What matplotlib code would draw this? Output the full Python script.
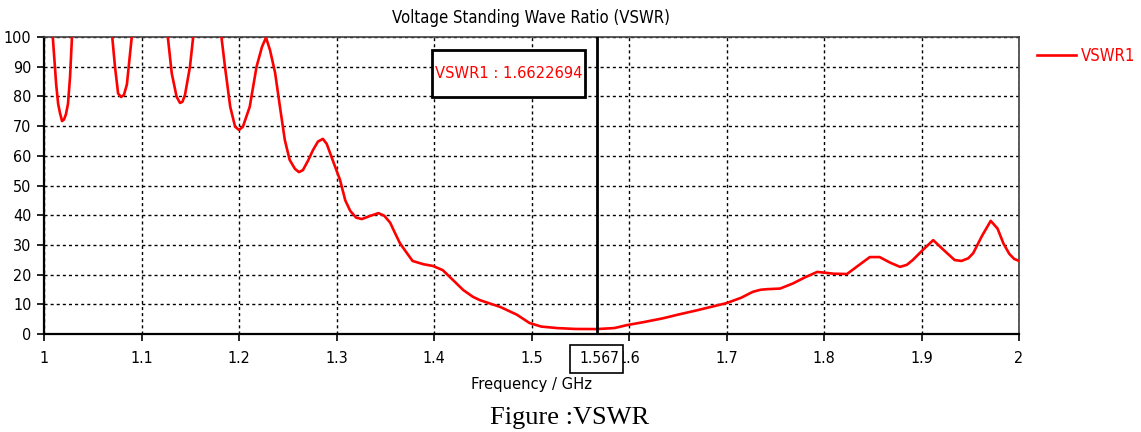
import matplotlib
matplotlib.use("Agg")
import matplotlib.pyplot as plt
import matplotlib.font_manager as fm
from matplotlib.patches import Rectangle

# ---- pick a narrow sans font if one is installed (reference uses a Tahoma-like narrow face)
stretch_rank = {'semi-condensed': 0, 'condensed': 1, 'extra-condensed': 2, 'ultra-condensed': 3}
cands = []
for f in fm.fontManager.ttflist:
    st = str(f.stretch)
    nm = f.name
    if f.style != 'normal' or f.weight not in (400, 'normal', 'regular', 'book'):
        continue
    if st in stretch_rank:
        cands.append((stretch_rank[st], nm, st))
    elif 'Narrow' in nm or 'Condensed' in nm:
        cands.append((1, nm, 'normal'))
pref = ['DejaVu Sans', 'Liberation Sans Narrow', 'Noto Sans', 'Open Sans', 'Roboto']
cands.sort(key=lambda c: (c[0], pref.index(c[1]) if c[1] in pref else 99))
if cands:
    FAMILY, STRETCH = cands[0][1], cands[0][2]
else:
    FAMILY, STRETCH = 'Liberation Sans', 'normal'
plt.rcParams['font.family'] = [FAMILY, 'DejaVu Sans']
plt.rcParams['font.stretch'] = STRETCH

freq = [1.000, 1.009, 1.0125, 1.0145, 1.0164, 1.0185, 1.0205, 1.0225, 1.0246, 1.0267, 1.0287, 1.034,
        1.065, 1.070, 1.0728, 1.076, 1.079, 1.082, 1.085, 1.090, 1.095,
        1.122, 1.127, 1.131, 1.136, 1.1395, 1.142, 1.1446, 1.1497, 1.153, 1.158,
        1.177, 1.182, 1.1856, 1.191, 1.196, 1.200, 1.204, 1.211, 1.218, 1.2236, 1.2277,
        1.2318, 1.237, 1.242, 1.247, 1.252, 1.2574, 1.2615, 1.2656, 1.271, 1.276, 1.281, 1.286,
        1.290, 1.296, 1.3036, 1.309, 1.314, 1.320, 1.326, 1.334, 1.343, 1.349, 1.355, 1.360,
        1.365, 1.371, 1.378, 1.389, 1.399, 1.409, 1.420, 1.430, 1.440, 1.447, 1.458, 1.468, 1.485,
        1.498, 1.510, 1.526, 1.545, 1.567, 1.585, 1.598, 1.615, 1.635, 1.650, 1.670,
        1.700, 1.715, 1.727, 1.735, 1.742, 1.755, 1.768, 1.780, 1.793, 1.799, 1.810, 1.8236,
        1.835, 1.847, 1.857, 1.868, 1.878, 1.885, 1.891, 1.902, 1.912, 1.922, 1.934, 1.941,
        1.948, 1.953, 1.962, 1.971, 1.978, 1.984, 1.990, 1.995, 2.000]
vswr = [140, 100, 84, 77.5, 74.4, 71.7, 72.2, 74, 77.5, 86.5, 100, 125,
        125, 100, 90, 81, 79.8, 80.5, 84, 100, 120,
        120, 100, 87.8, 79.9, 77.8, 78.2, 80.5, 90, 100, 120,
        120, 100, 90, 76.5, 69.8, 68.7, 69.8, 76.5, 90, 96.7, 99.8,
        95.6, 88, 76.5, 65.3, 58.6, 55.6, 54.5, 55.2, 58.5, 62, 64.8, 65.7,
        64, 58.6, 51.9, 45, 41.5, 39.2, 38.7, 39.7, 40.7, 39.8, 37.5, 34,
        30.6, 27.8, 24.6, 23.5, 22.9, 21.5, 18, 14.8, 12.5, 11.4, 10.2, 9.1, 6.5,
        3.7, 2.5, 2.0, 1.7, 1.66, 2.0, 3.0, 4.0, 5.3, 6.5, 8.0,
        10.4, 12.2, 14.2, 14.9, 15.1, 15.3, 17, 19, 20.9, 20.7, 20.3, 20.2,
        23, 25.9, 25.9, 24, 22.6, 23.3, 24.9, 28.5, 31.6, 28.5, 24.9, 24.6,
        25.5, 27.2, 33, 38.1, 35.5, 30.5, 27.0, 25.3, 24.6]

x_ticks = [1, 1.1, 1.2, 1.3, 1.4, 1.5, 1.6, 1.7, 1.8, 1.9, 2]
x_tick_labels = ['1', '1.1', '1.2', '1.3', '1.4', '1.5', '1.6', '1.7', '1.8', '1.9', '2']
y_ticks = [0, 10, 20, 30, 40, 50, 60, 70, 80, 90, 100]
marker_freq = 1.567
marker_value_text = 'VSWR1 : 1.6622694'
series_name = 'VSWR1'

W, H = 1141, 432
fig = plt.figure(figsize=(W / 100, H / 100), dpi=100)
ax = fig.add_axes([44 / W, 1 - 334 / H, 975 / W, 297 / H])

ax.plot(freq, vswr, color='#ff0000', lw=1.9, zorder=3, solid_joinstyle='round')
ax.set_xlim(1, 2)
ax.set_ylim(0, 100)
ax.set_xticks(x_ticks)
ax.set_xticklabels(x_tick_labels)
ax.set_yticks(y_ticks)
ax.grid(True, color='black', linestyle=(0, (2.2, 2.2)), linewidth=1.0)
ax.tick_params(axis='both', direction='out', length=5, width=1.2, labelsize=11.5, colors='black')
ax.tick_params(axis='x', pad=7)
ax.tick_params(axis='y', pad=4)
for s in ['left', 'bottom']:
    ax.spines[s].set_linewidth(1.6)
    ax.spines[s].set_color('black')
for s in ['top', 'right']:
    ax.spines[s].set_linewidth(1.2)
    ax.spines[s].set_color('#404040')

ax.set_title('Voltage Standing Wave Ratio (VSWR)', fontsize=12, pad=10)
ax.set_xlabel('Frequency / GHz', fontsize=11.8, labelpad=8)

# marker line
ax.axvline(marker_freq, color='black', lw=2, zorder=4)

# marker value box
ax.add_patch(Rectangle((0.398, 0.798), 0.157, 0.158, transform=ax.transAxes,
                       fill=True, facecolor='white', edgecolor='black', lw=2, zorder=5))
ax.text(0.4765, 0.877, marker_value_text, transform=ax.transAxes, color='#ff0000',
        fontsize=11.8, ha='center', va='center', zorder=6)

# marker x box
ax.add_patch(Rectangle((0.5395, -0.1313), 0.0544, 0.0943, transform=ax.transAxes,
                       fill=True, facecolor='white', edgecolor='black', lw=1.2,
                       clip_on=False, zorder=5))
ax.text(marker_freq + 0.0025, -0.084, f'{marker_freq:.3f}', transform=ax.get_xaxis_transform(),
        fontsize=11.2, ha='center', va='center', clip_on=False, zorder=6)

# legend
leg = ax.legend([series_name], loc='center left', bbox_to_anchor=(1037 / W, 1 - 56 / H),
                bbox_transform=fig.transFigure, frameon=False, fontsize=12,
                borderpad=0, borderaxespad=0, handlelength=2.35, handletextpad=0.3,
                labelcolor='#ff0000')

fig.text(570 / W, 1 - 418 / H, 'Figure :VSWR', family='Liberation Serif', stretch='normal',
         fontsize=19, ha='center', va='center')

fig.savefig('out.png', dpi=100)
